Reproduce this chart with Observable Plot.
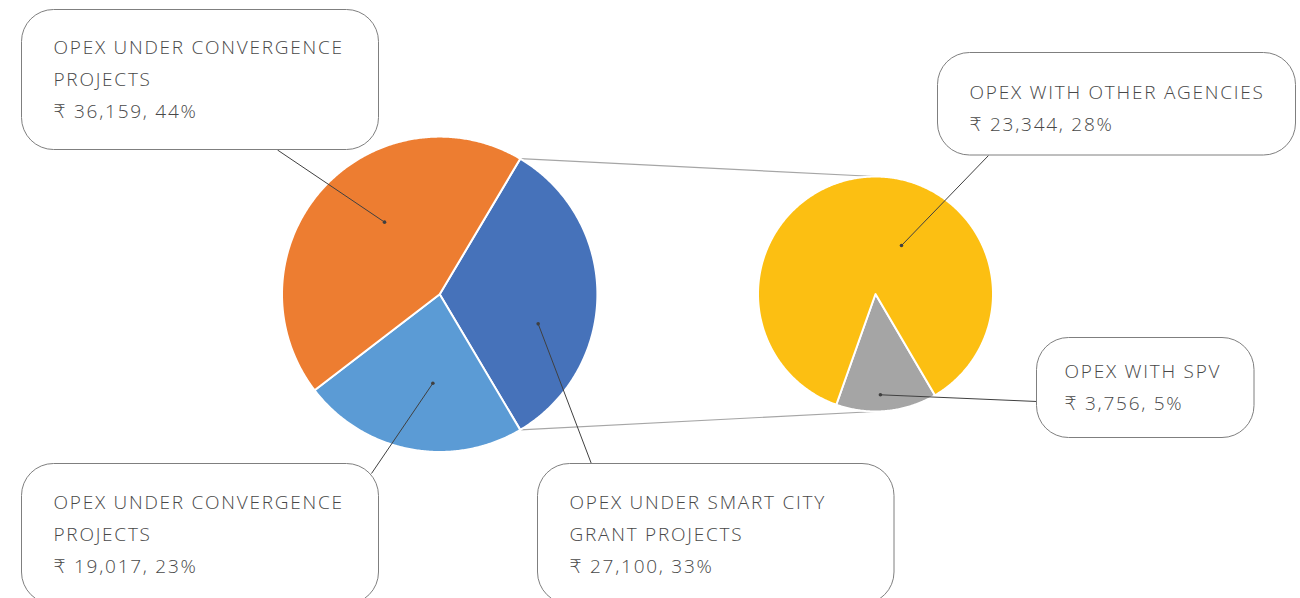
<!DOCTYPE html>
<html><head><meta charset="utf-8">
<script src="https://cdn.jsdelivr.net/npm/d3@7"></script>
<script src="https://cdn.jsdelivr.net/npm/@observablehq/plot@0.6"></script>
<style>html,body{margin:0;padding:0;background:#fff}#chart svg{display:block}</style>
</head><body><div id="chart"></div>
<script>
// ---------- DATA ----------
const primaryKeys = ["smartCity", "convergenceA", "convergenceB"];
const primaryCategories = ["OPEX UNDER SMART CITY GRANT PROJECTS", "OPEX UNDER CONVERGENCE PROJECTS", "OPEX UNDER CONVERGENCE PROJECTS"];
const primaryValues = [27100, 19017, 36159];
const secondaryKeys = ["spv", "otherAgencies"];
const secondaryCategories = ["OPEX WITH SPV", "OPEX WITH OTHER AGENCIES"];
const secondaryValues = [3756, 23344];
const currencySymbol = "\u20B9";

// ---------- STYLE ----------
const colorKeys = [...primaryKeys, ...secondaryKeys];
const colorRange = ["#4672BA", "#5B9BD5", "#ED7D31", "#A5A5A5", "#FCBF12"];
const textColor = "#484848";
const fontSize = 19;
const lineGap = 32;

// ---------- LAYOUT ----------
const W = 1300, H = 598;
const primaryPie = {cx: 439.2, cy: 293.8, r: 157.7};
const secondaryPie = {cx: 875, cy: 293.5, r: 117.5, startDeg: 149.6};
// callouts: box [x1,y1,x2,y2], text start, first baseline, leader start, anchor (deg clockwise from north, fraction of radius)
const labelLayout = [
  {key: "convergenceB", pie: "p", box: [21.5, 9.5, 378.5, 149.5], tx: 53, by: 53, from: [277, 149.5], anchor: [322.6, 0.576]},
  {key: "smartCity", pie: "p", box: [537.5, 463.5, 894, 604], tx: 569, by: 508, from: [591, 463.5], anchor: [106.7, 0.652]},
  {key: "convergenceA", pie: "p", box: [21.5, 463.5, 378.5, 604], tx: 53, by: 508, from: [371, 473], anchor: [184.4, 0.566]},
  {key: "otherAgencies", pie: "s", box: [937.5, 52.5, 1295.5, 155], tx: 969, by: 98, from: [988, 155], anchor: [28.2, 0.468]},
  {key: "spv", pie: "s", box: [1036.5, 337.5, 1254, 437.5], tx: 1064, by: 377, from: [1036.5, 401], anchor: [177.2, 0.859]}
];
const wrapChars = 24;

// ---------- BUILD ----------
const rad = Math.PI / 180;
const primaryTotal = d3.sum(primaryValues);
const splitSpan = primaryValues[0] / primaryTotal * 2 * Math.PI;
const primaryArcs = d3.pie().sort(null).value(d => d)
  .startAngle(Math.PI / 2 - splitSpan / 2).endAngle(Math.PI / 2 - splitSpan / 2 + 2 * Math.PI)(primaryValues);
const secondaryArcs = d3.pie().sort(null).value(d => d)
  .startAngle(secondaryPie.startDeg * rad).endAngle(secondaryPie.startDeg * rad + 2 * Math.PI)(secondaryValues);

function polar(pie, a, f = 1) {
  return [pie.cx + pie.r * f * Math.sin(a), pie.cy - pie.r * f * Math.cos(a)];
}
function slicePoints(pie, arcs, keys) {
  const pts = [];
  arcs.forEach((a, i) => {
    const n = Math.max(2, Math.ceil((a.endAngle - a.startAngle) / (Math.PI / 360)));
    pts.push({key: keys[i], px: pie.cx, py: pie.cy});
    for (let k = 0; k <= n; k++) {
      const t = a.startAngle + (a.endAngle - a.startAngle) * k / n;
      const [px, py] = polar(pie, t);
      pts.push({key: keys[i], px, py});
    }
  });
  return pts;
}
const slices = [...slicePoints(primaryPie, primaryArcs, primaryKeys), ...slicePoints(secondaryPie, secondaryArcs, secondaryKeys)];

const splitArc = primaryArcs[0];
const [tx1, ty1] = polar(primaryPie, splitArc.startAngle);
const [bx1, by1] = polar(primaryPie, splitArc.endAngle);
const connectors = [
  {x1: tx1, y1: ty1, x2: secondaryPie.cx, y2: secondaryPie.cy - secondaryPie.r},
  {x1: bx1, y1: by1, x2: secondaryPie.cx, y2: secondaryPie.cy + secondaryPie.r}
];

const info = {};
primaryKeys.forEach((k, i) => info[k] = {name: primaryCategories[i], value: primaryValues[i]});
secondaryKeys.forEach((k, i) => info[k] = {name: secondaryCategories[i], value: secondaryValues[i]});

function wrap(s) {
  const words = s.split(" "); const out = []; let cur = "";
  for (const w of words) {
    if (cur && (cur + " " + w).length > wrapChars) { out.push(cur); cur = w; }
    else cur = cur ? cur + " " + w : w;
  }
  if (cur) out.push(cur);
  return out;
}

const boxes = [], leaders = [], lines = [];
for (const L of labelLayout) {
  const d = info[L.key];
  const pie = L.pie === "p" ? primaryPie : secondaryPie;
  const [ax, ay] = polar(pie, L.anchor[0] * rad, L.anchor[1]);
  boxes.push({x1: L.box[0], y1: L.box[1], x2: L.box[2], y2: L.box[3]});
  leaders.push({x1: L.from[0], y1: L.from[1], x2: ax, y2: ay});
  const pct = Math.round(d.value / primaryTotal * 100);
  const textLines = [...wrap(d.name), `${currencySymbol} ${d3.format(",")(d.value)}, ${pct}%`];
  textLines.forEach((t, i) => lines.push({x: L.tx, y: L.by + i * lineGap, text: t}));
}

const chart = Plot.plot({
  width: W, height: H, margin: 0,
  x: {domain: [0, W], range: [0, W], axis: null},
  y: {domain: [0, H], range: [0, H], axis: null},
  color: {domain: colorKeys, range: colorRange},
  style: {background: "white"},
  marks: [
    Plot.link(connectors, {x1: "x1", y1: "y1", x2: "x2", y2: "y2", stroke: "#a6a6a6", strokeWidth: 1.2}),
    Plot.line(slices, {x: "px", y: "py", z: "key", fill: "key", stroke: "white", strokeWidth: 2, curve: "linear-closed", strokeLinejoin: "round"}),
    Plot.link(leaders, {x1: "x1", y1: "y1", x2: "x2", y2: "y2", stroke: "#404040", strokeWidth: 1}),
    Plot.dot(leaders, {x: "x2", y: "y2", r: 1.8, fill: "#404040", stroke: null}),
    Plot.rect(boxes, {x1: "x1", x2: "x2", y1: "y1", y2: "y2", fill: "white", stroke: "#7f7f7f", strokeWidth: 1, rx: 32}),
    Plot.text(lines, {x: "x", y: "y", text: "text", textAnchor: "start", lineAnchor: "bottom", fontSize, fontWeight: 300, fill: textColor, fontFamily: "'Open Sans', 'DejaVu Sans', sans-serif"})
  ]
});
chart.querySelectorAll("text").forEach(t => t.setAttribute("letter-spacing", "1.75"));
document.getElementById("chart").appendChild(chart);
</script>
</body></html>
